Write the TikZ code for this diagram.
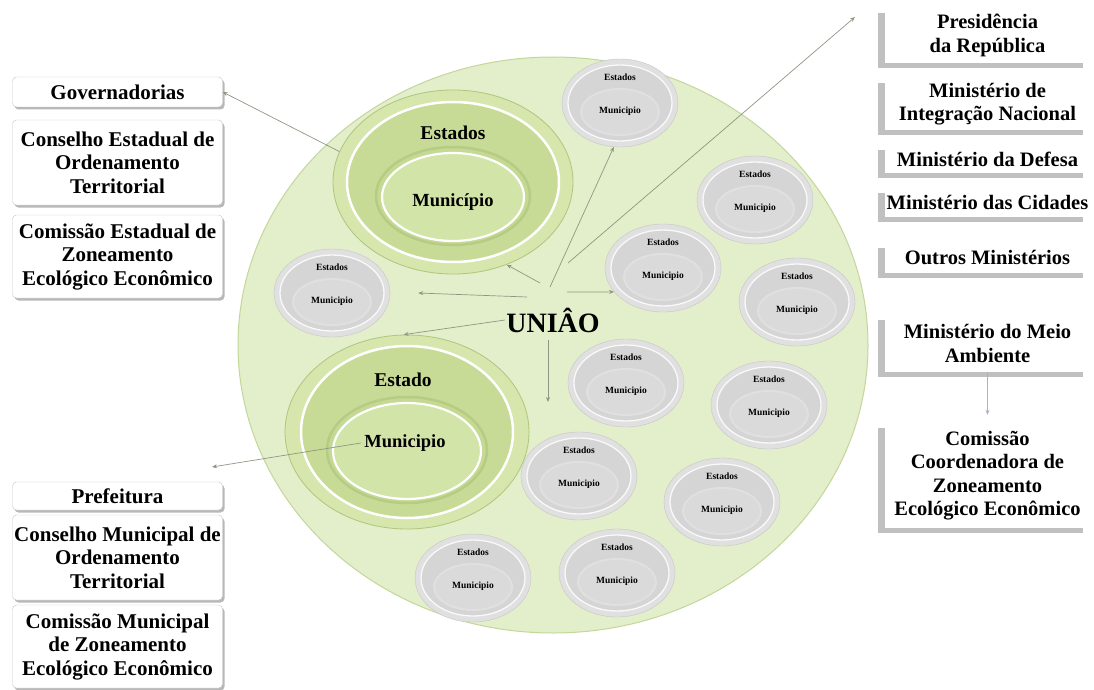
\documentclass[tikz,border=0pt]{standalone}
\usepackage{fontspec}
\setmainfont{Liberation Serif}
\usetikzlibrary{shapes.geometric,shadows,arrows.meta}
\definecolor{uniaofundo}{HTML}{E3EECA}
\definecolor{uniaoborda}{HTML}{C4D69B}
\definecolor{verdeaba}{HTML}{D6E6AD}
\definecolor{verdeborda}{HTML}{AFC67C}
\definecolor{verdemeio}{HTML}{C8DB96}
\definecolor{verdemiolo}{HTML}{D3E4A8}
\definecolor{cinzaaba}{HTML}{E0E0E0}
\definecolor{cinzaborda}{HTML}{C6C6C6}
\definecolor{cinzameio}{HTML}{D5D5D5}
\definecolor{cinzamiolo}{HTML}{DADADA}
\definecolor{setacor}{HTML}{8E9784}
\definecolor{setaazul}{HTML}{A8B3C6}
\tikzset{
  seta/.style={draw=setacor, line width=0.7pt, -{Stealth[length=5pt,width=4pt]}},
  caixaesq/.style={rectangle, rounded corners=4pt, draw=gray!45, fill=white, minimum width=210, align=center, inner sep=0pt,
    font=\fontsize{21}{23.5}\selectfont\bfseries, drop shadow={shadow xshift=2pt, shadow yshift=-2.5pt, fill=gray!70, opacity=0.8}},
  caixadir/.style={rectangle, fill=white, minimum width=205, align=center, inner sep=0pt,
    font=\fontsize{20.5}{23.5}\selectfont\bfseries, drop shadow={shadow xshift=-7pt, shadow yshift=-5pt, fill=gray!55, opacity=0.9}},
  estadinhofora/.style={ellipse, draw=cinzaborda, fill=cinzaaba, minimum width=116, minimum height=88, inner sep=0pt},
  estadinhodentro/.style={ellipse, draw=cinzaaba, line width=2pt, fill=cinzamiolo, minimum width=78, minimum height=46, inner sep=0pt},
  rotulinho/.style={font=\fontsize{9.5}{10}\selectfont\bfseries, inner sep=1pt}
}
\def\estadinho(#1,#2)[#3]{%
  \node[estadinhofora] (#3) at (#1,#2) {};
  \draw[white!80!cinzaaba, line width=1.3pt, fill=cinzameio] (#1,#2) ellipse (52 and 38);
  \node[estadinhodentro] (#3m) at (#1,{#2+9}) {};
  \node[rotulinho] (#3e) at (#1,{#2-26}) {Estados};
  \node[rotulinho] (#3t) at (#1,{#2+8}) {Municipio};
}
\begin{document}
\begin{tikzpicture}[x=1pt,y=-1pt]
  \useasboundingbox (0,0) rectangle (1094,690);

  %%%%% UNIAO %%%%%
  \node[ellipse, draw=uniaoborda, line width=1pt, fill=uniaofundo, minimum width=630, minimum height=576] (uniaoarea) at (553,345) {};

  %%%%% ESTADOS (upper) %%%%%
  \node[ellipse, draw=verdeborda, line width=0.8pt, fill=verdeaba, minimum width=240, minimum height=184, inner sep=0pt] (estados) at (453,182) {};
  \draw[white, line width=2.5pt, fill=verdemeio] (453,182) ellipse (106 and 80);
  \node[ellipse, draw=verdeborda!70!verdemeio, line width=2.5pt, fill=verdemeio!90!verdeborda, minimum width=154, minimum height=98, inner sep=0pt] (municipio) at (453,196) {};
  \draw[white, line width=2.2pt, fill=verdemiolo] (453,197) ellipse (71 and 44);
  \node[font=\fontsize{19.5}{20}\selectfont\bfseries] (estadostxt) at (453,133) {Estados};
  \node[font=\fontsize{18.5}{20}\selectfont\bfseries] (municipiotxt) at (453,202) {Município};

  %%%%% ESTADO (lower) %%%%%
  \node[ellipse, draw=verdeborda, line width=0.8pt, fill=verdeaba, minimum width=244, minimum height=194, inner sep=0pt] (estado) at (407,432) {};
  \draw[white, line width=2.5pt, fill=verdemeio] (407,432) ellipse (106 and 86);
  \node[ellipse, draw=verdeborda!70!verdemeio, line width=2.5pt, fill=verdemeio!90!verdeborda, minimum width=160, minimum height=106, inner sep=0pt] (municipio2) at (407,450) {};
  \draw[white, line width=2.2pt, fill=verdemiolo] (407,451) ellipse (74 and 48);
  \node[font=\fontsize{19.5}{20}\selectfont\bfseries] (estadotxt) at (403,380) {Estado};
  \node[font=\fontsize{18.5}{20}\selectfont\bfseries] (municipio2txt) at (405,443) {Municipio};

  %%%%% small states %%%%%
  \estadinho(620,103)[g1]
  \estadinho(332,293)[g2]
  \estadinho(755,200)[g3]
  \estadinho(663,268)[g4]
  \estadinho(797,302)[g5]
  \estadinho(626,383)[g6]
  \estadinho(769,405)[g7]
  \estadinho(579,476)[g8]
  \estadinho(722,502)[g9]
  \estadinho(473,578)[g10]
  \estadinho(617,573)[g11]

  \node[font=\fontsize{28}{30}\selectfont\bfseries] (uniao) at (553,320) {UNIÂO};

  %%%%% left boxes %%%%%
  \node[caixaesq, minimum height=30] (gov) at (117.5,92) {Governadorias};
  \node[caixaesq, minimum height=85] (ceot) at (117.5,162.5) {Conselho Estadual de\\Ordenamento\\Territorial};
  \node[caixaesq, minimum height=83] (cezee) at (117.5,256.5) {Comissão Estadual de\\Zoneamento\\Ecológico Econômico};
  \node[caixaesq, minimum height=28] (pref) at (117.5,496) {Prefeitura};
  \node[caixaesq, minimum height=85] (cmot) at (117.5,557.5) {Conselho Municipal de\\Ordenamento\\Territorial};
  \node[caixaesq, minimum height=83] (cmzee) at (117.5,646.5) {Comissão Municipal\\de Zoneamento\\Ecológico Econômico};

  %%%%% right boxes %%%%%
  \node[caixadir, minimum height=55] (pres) at (987.5,35.5) {Presidência\\da República};
  \node[caixadir, minimum height=52] (min) at (987.5,104) {Ministério de\\Integração Nacional};
  \node[caixadir, minimum height=28] (def) at (987.5,159) {Ministério da Defesa};
  \node[caixadir, minimum height=29] (cid) at (987.5,202.5) {Ministério das Cidades};
  \node[caixadir, minimum height=30] (outros) at (987.5,258) {Outros Ministérios};
  \node[caixadir, minimum height=57] (mma) at (987.5,343.5) {Ministério do Meio\\Ambiente};
  \node[caixadir, minimum height=105] (cczee) at (987.5,475.5) {Comissão\\Coordenadora de\\Zoneamento\\Ecológico Econômico};

  %%%%% arrows %%%%%
  \coordinate (u1) at (540,283);
  \coordinate (u2) at (550,287);
  \coordinate (u3) at (568,263);
  \coordinate (u4) at (527,297);
  \coordinate (u5) at (567,292);
  \coordinate (u6) at (505,320);
  \coordinate (u7) at (548,340);
  \coordinate (presfim) at (855,17);
  \coordinate (baixofim) at (548,402);
  \coordinate (preffim) at (212,467);

  \draw[seta] (u1) -- (estados.-57);
  \draw[seta] (u2) -- (g1.-98);
  \draw[seta] (u3) -- (presfim);
  \draw[seta] (u4) -- ([xshift=28pt]g2.east);
  \draw[seta] (u5) -- (g4.206);
  \draw[seta] (u6) -- (estado.92);
  \draw[seta] (u7) -- (baixofim);
  \draw[seta] (estados.165) -- (gov.east);
  \draw[seta] (municipio2txt.west) -- (preffim);
  \draw[seta, draw=setaazul, shorten >=8pt] (mma.south) -- (cczee.north);
\end{tikzpicture}
\end{document}
